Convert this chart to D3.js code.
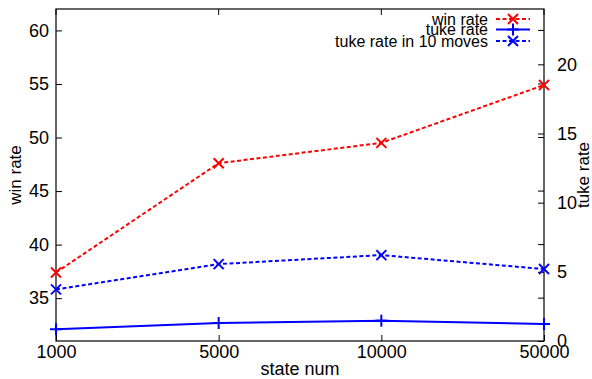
<!DOCTYPE html>
<html lang="en">
<head>
    <meta charset="UTF-8">
    <title>win rate / tuke rate vs state num</title>
    <script src="https://cdnjs.cloudflare.com/ajax/libs/d3/7.8.5/d3.min.js"></script>
    <style>
        body { margin: 0; background: #fff; font-family: "Liberation Sans", Arial, sans-serif; }
        .axis text { font-size: 18px; fill: #000; font-family: "Liberation Sans", Arial, sans-serif; }
        .axis path, .axis line { stroke: #000; }
    </style>
</head>
<body>
    <div id="chart"></div>
    <script>
        // Data
        const stateNums = ["1000", "5000", "10000", "50000"];
        const winRate = [37.4, 47.6, 49.5, 54.9];          // left axis
        const tukeRate = [0.85, 1.3, 1.47, 1.23];           // right axis
        const tukeRate10 = [3.73, 5.56, 6.21, 5.2];         // right axis
        const leftTicks = [35, 40, 45, 50, 55, 60];
        const rightTicks = [0, 5, 10, 15, 20];

        const width = 592, height = 379;
        const margin = {top: 9, right: 48, bottom: 38, left: 56};
        const x0 = margin.left, x1 = width - margin.right;
        const y0 = height - margin.bottom, y1 = margin.top;

        const svg = d3.select("#chart").append("svg")
            .attr("width", width)
            .attr("height", height);

        const x = d3.scalePoint().domain(stateNums).range([x0, x1]);
        const yL = d3.scaleLinear().domain([31, 62]).range([y0, y1]);
        const yR = d3.scaleLinear().domain([0, 24]).range([y0, y1]);

        // frame
        svg.append("rect")
            .attr("x", x0).attr("y", y1)
            .attr("width", x1 - x0).attr("height", y0 - y1)
            .attr("fill", "none").attr("stroke", "#000").attr("stroke-width", 1.2);

        // ticks (inward, gnuplot style)
        const tick = 6;
        const gx = svg.append("g").attr("class", "axis")
            .attr("transform", `translate(0,${y0})`)
            .call(d3.axisBottom(x).tickSizeInner(-tick).tickSizeOuter(0));
        gx.select(".domain").remove();
        gx.selectAll("text").attr("dy", "0.71em").attr("y", 4);

        // mirrored x ticks on top
        svg.append("g").selectAll("line").data(stateNums).join("line")
            .attr("x1", d => x(d)).attr("x2", d => x(d))
            .attr("y1", y1).attr("y2", y1 + tick).attr("stroke", "#000");

        const gl = svg.append("g").attr("class", "axis")
            .attr("transform", `translate(${x0},0)`)
            .call(d3.axisLeft(yL).tickValues(leftTicks).tickSizeInner(-tick).tickSizeOuter(0).tickPadding(7));
        gl.select(".domain").remove();

        // mirrored left ticks on right side
        svg.append("g").selectAll("line").data(leftTicks).join("line")
            .attr("x1", x1).attr("x2", x1 - tick)
            .attr("y1", d => yL(d)).attr("y2", d => yL(d)).attr("stroke", "#000");

        const gr = svg.append("g").attr("class", "axis")
            .attr("transform", `translate(${x1},0)`)
            .call(d3.axisRight(yR).tickValues(rightTicks).tickSizeInner(-tick).tickSizeOuter(0).tickPadding(13));
        gr.select(".domain").remove();

        // axis titles
        svg.append("text")
            .attr("x", (x0 + x1) / 2).attr("y", 375)
            .attr("text-anchor", "middle").attr("font-size", 18)
            .text("state num");
        svg.append("text")
            .attr("transform", `translate(21,${(y0 + y1) / 2}) rotate(-90)`)
            .attr("text-anchor", "middle").attr("font-size", 17)
            .text("win rate");
        svg.append("text")
            .attr("transform", `translate(589,${(y0 + y1) / 2}) rotate(-90)`)
            .attr("text-anchor", "middle").attr("font-size", 17)
            .text("tuke rate");

        const series = [
            {name: "win rate", values: winRate, scale: yL, color: "#ff0000", dash: "4,2.5", mark: "x"},
            {name: "tuke rate", values: tukeRate, scale: yR, color: "#0000ff", dash: null, mark: "+"},
            {name: "tuke rate in 10 moves", values: tukeRate10, scale: yR, color: "#0000ff", dash: "4,2.5", mark: "x"}
        ];

        function marker(g, cx, cy, type, color) {
            const s = 5;
            const segs = type === "x"
                ? [[-s, -s, s, s], [-s, s, s, -s]]
                : [[-s - 1, 0, s + 1, 0], [0, -s - 1, 0, s + 1]];
            segs.forEach(p => g.append("line")
                .attr("x1", cx + p[0]).attr("y1", cy + p[1])
                .attr("x2", cx + p[2]).attr("y2", cy + p[3])
                .attr("stroke", color).attr("stroke-width", 2));
        }

        series.forEach(s => {
            const line = d3.line()
                .x((d, i) => x(stateNums[i]))
                .y(d => s.scale(d));
            svg.append("path")
                .attr("d", line(s.values))
                .attr("fill", "none")
                .attr("stroke", s.color)
                .attr("stroke-width", 2)
                .attr("stroke-dasharray", s.dash);
            const g = svg.append("g");
            s.values.forEach((v, i) => marker(g, x(stateNums[i]), s.scale(v), s.mark, s.color));
        });

        // legend
        const legendY = [19, 29.5, 41];
        const leg = svg.append("g");
        series.forEach((s, i) => {
            leg.append("text")
                .attr("x", 488).attr("y", legendY[i]).attr("dy", "0.35em")
                .attr("text-anchor", "end").attr("font-size", 16)
                .text(s.name);
            leg.append("line")
                .attr("x1", 496).attr("x2", 530)
                .attr("y1", legendY[i]).attr("y2", legendY[i])
                .attr("stroke", s.color).attr("stroke-width", 2)
                .attr("stroke-dasharray", s.dash);
            marker(leg, 513, legendY[i], s.mark, s.color);
        });
    </script>
</body>
</html>
